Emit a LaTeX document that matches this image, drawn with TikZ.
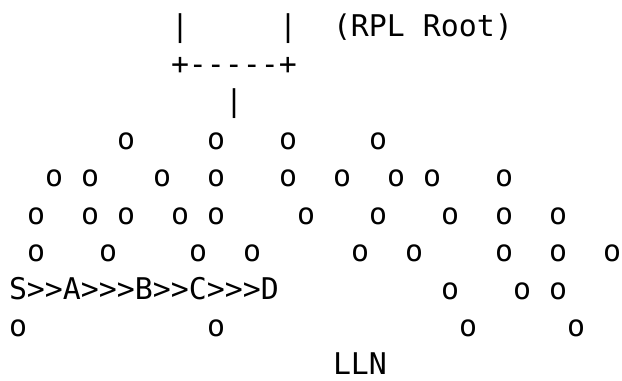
\documentclass[tikz,border=0pt]{standalone}
\usepackage{fontspec}
\newfontfamily\asc{DejaVu Sans Mono}[Ligatures=TeXOff]
\begin{document}
\begin{tikzpicture}[x=1bp,y=-1bp,
  txt/.style={inner sep=0pt, outer sep=0pt, anchor=base west,
    font=\asc\fontsize{30pt}{37.5pt}\selectfont}]
\useasboundingbox[fill=white] (0,0) rectangle (622,380);
% grid: column c left edge at 9+18c, line i baseline at 36.5+37.5i
\node[txt] (barL)  at ({9+18*9},  36.5) {|};
\node[txt] (barR)  at ({9+18*15}, 36.5) {|};
\node[txt] (root)  at ({9+18*18}, 36.5) {(RPL Root)};
\node[txt] (box)   at ({9+18*9},  {36.5+37.5*1}) {+-\kern0pt-\kern0pt-\kern0pt-\kern0pt-+};
\node[txt] (stem)  at ({9+18*12}, {36.5+37.5*2}) {|};
\foreach \c in {6,11,15,20}
  \node[txt] (oa\c) at ({9+18*\c}, {36.5+37.5*3}) {o};
\foreach \c in {2,4,8,11,15,18,21,23,27}
  \node[txt] (ob\c) at ({9+18*\c}, {36.5+37.5*4}) {o};
\foreach \c in {1,4,6,9,11,16,20,24,27,30}
  \node[txt] (oc\c) at ({9+18*\c}, {36.5+37.5*5}) {o};
\foreach \c in {1,5,10,13,19,22,27,30,33}
  \node[txt] (od\c) at ({9+18*\c}, {36.5+37.5*6}) {o};
\node[txt] (path) at ({9+18*0}, {36.5+37.5*7}) {S>\kern0pt>A>\kern0pt>\kern0pt>B>\kern0pt>C>\kern0pt>\kern0pt>D};
\foreach \c in {24,28,30}
  \node[txt] (oe\c) at ({9+18*\c}, {36.5+37.5*7}) {o};
\foreach \c in {0,11,25,31}
  \node[txt] (of\c) at ({9+18*\c}, {36.5+37.5*8}) {o};
\node[txt] (lln) at ({9+18*18}, {36.5+37.5*9}) {LLN};
\end{tikzpicture}
\end{document}
